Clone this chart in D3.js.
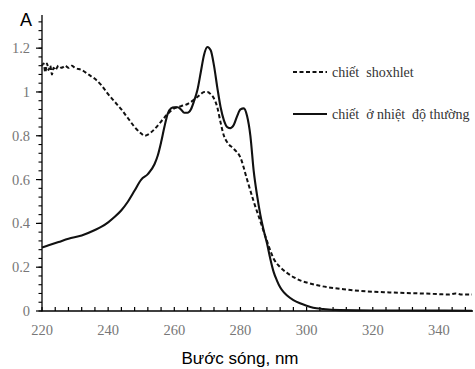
<!DOCTYPE html>
<html>
<head>
<meta charset="utf-8">
<script src="https://cdn.jsdelivr.net/npm/d3@7"></script>
<style>
  body { margin: 0; background: #fff; }
  svg { display: block; }
</style>
</head>
<body>
<div id="chart"></div>
<script>
// wavelength (nm) and absorbance
let soxhletWl = [220, 220.5, 221, 221.5, 222, 222.5, 223, 223.5, 224, 225, 226, 227, 228, 229, 230, 232, 234, 236, 238, 240,
  242, 244, 246, 248, 250, 251, 252, 254, 256, 258, 260, 262, 264, 266, 268, 269, 270, 271, 272, 273, 274, 275, 276, 278,
  280, 282, 284, 286, 288, 290, 292, 294, 296, 298, 300, 304, 308, 312, 316, 320, 325, 330, 335, 340, 343, 345, 347, 350]
let soxhletA = [1.12, 1.13, 1.09, 1.13, 1.10, 1.12, 1.08, 1.11, 1.10, 1.12, 1.11, 1.12, 1.11, 1.12, 1.11, 1.10, 1.08, 1.06, 1.03, 0.99,
  0.955, 0.92, 0.88, 0.84, 0.81, 0.80, 0.805, 0.83, 0.865, 0.90, 0.925, 0.935, 0.945, 0.965, 0.99, 1.0, 1.0, 0.99, 0.97, 0.93, 0.86, 0.80, 0.77, 0.74,
  0.70, 0.60, 0.50, 0.41, 0.32, 0.24, 0.20, 0.175, 0.155, 0.14, 0.13, 0.115, 0.105, 0.098, 0.092, 0.088, 0.085, 0.082, 0.080, 0.077, 0.075, 0.080, 0.075, 0.075]

let roomWl = [220, 222, 225, 228, 232, 236, 238, 240, 242, 244, 246, 248, 250, 252, 254, 255, 256, 257, 258, 259, 260, 261, 262, 263, 264,
  265, 266, 267, 268, 269, 270, 271, 272, 273, 274, 275, 276, 277, 278, 279, 280, 281, 282, 283, 284, 285, 286, 287, 288, 289, 290,
  291, 292, 293, 294, 296, 298, 300, 302, 305, 310, 320, 330, 350]
let roomA = [0.29, 0.30, 0.315, 0.33, 0.345, 0.37, 0.385, 0.405, 0.43, 0.46, 0.50, 0.55, 0.60, 0.625, 0.67, 0.71, 0.77, 0.84, 0.90, 0.925, 0.93, 0.93, 0.92, 0.905, 0.905,
  0.92, 0.96, 1.01, 1.09, 1.17, 1.205, 1.19, 1.12, 1.02, 0.93, 0.87, 0.84, 0.835, 0.85, 0.89, 0.92, 0.925, 0.89, 0.80, 0.64, 0.53, 0.44, 0.37, 0.31, 0.24, 0.18,
  0.14, 0.108, 0.087, 0.072, 0.05, 0.035, 0.024, 0.015, 0.009, 0.004, 0.002, 0.002, 0.001]

let xTicks = [220, 240, 260, 280, 300, 320, 340]
let yTicks = [0, 0.2, 0.4, 0.6, 0.8, 1, 1.2]
let seriesNames = ['chiết  shoxhlet', 'chiết  ở nhiệt  độ thường']

let width = 475, height = 369

let svg = d3.select('#chart')
  .append('svg')
  .attr('width', width)
  .attr('height', height)

let x = d3.scaleLinear().domain([220, 350]).range([42, 472])
let y = d3.scaleLinear().domain([0, 1.35]).range([311, 15.3])

let serif = '"Liberation Serif", "Times New Roman", serif'
let sans = '"Liberation Sans", Arial, sans-serif'

// x axis: minor ticks every 4 nm, pointing up
let xMinor = d3.range(220, 351, 4)
let xAxis = svg.append('g').attr('transform', 'translate(0,311)')
xAxis.append('line')
  .attr('x1', 42).attr('x2', 473)
  .attr('stroke', '#000').attr('stroke-width', 1.3)
xAxis.selectAll('.xt').data(xMinor).enter().append('line')
  .attr('x1', d => x(d)).attr('x2', d => x(d))
  .attr('y1', 0).attr('y2', -4)
  .attr('stroke', '#000').attr('stroke-width', 1.2)
xAxis.selectAll('.xl').data(xTicks).enter().append('text')
  .attr('x', d => x(d)).attr('y', 24)
  .attr('text-anchor', 'middle')
  .attr('font-family', serif).attr('font-size', 14.5)
  .attr('fill', '#777')
  .text(d => d)

// y axis: minor ticks every 0.04
let yMinor = d3.range(0, 1.36, 0.04)
let yAxis = svg.append('g').attr('transform', 'translate(42,0)')
yAxis.append('line')
  .attr('y1', 15).attr('y2', 311.6)
  .attr('stroke', '#000').attr('stroke-width', 1.3)
yAxis.selectAll('.ym').data(yMinor).enter().append('line')
  .attr('x1', -3.5).attr('x2', 0)
  .attr('y1', d => y(d)).attr('y2', d => y(d))
  .attr('stroke', '#000').attr('stroke-width', 1.1)
yAxis.selectAll('.yt').data(yTicks).enter().append('line')
  .attr('x1', -6).attr('x2', 0)
  .attr('y1', d => y(d)).attr('y2', d => y(d))
  .attr('stroke', '#000').attr('stroke-width', 1.2)
yAxis.selectAll('.yl').data(yTicks).enter().append('text')
  .attr('x', -12).attr('y', d => y(d))
  .attr('dy', '0.35em')
  .attr('text-anchor', 'end')
  .attr('font-family', serif).attr('font-size', 14.5)
  .attr('fill', '#777')
  .text(d => d)

svg.append('text')
  .attr('x', 26).attr('y', 26)
  .attr('text-anchor', 'middle')
  .attr('font-family', sans).attr('font-size', 18)
  .text('A')

svg.append('text')
  .attr('x', 240).attr('y', 364)
  .attr('text-anchor', 'middle')
  .attr('font-family', sans).attr('font-size', 17)
  .text('Bước sóng, nm')

let line = d3.line()
  .x(d => x(d[0]))
  .y(d => y(d[1]))
  .curve(d3.curveMonotoneX)

let soxhlet = d3.zip(soxhletWl, soxhletA)
let room = d3.zip(roomWl, roomA)

svg.append('path')
  .datum(soxhlet)
  .attr('d', line)
  .attr('fill', 'none')
  .attr('stroke', '#111')
  .attr('stroke-width', 2)
  .attr('stroke-dasharray', '4,2.5')

svg.append('path')
  .datum(room)
  .attr('d', line)
  .attr('fill', 'none')
  .attr('stroke', '#111')
  .attr('stroke-width', 2.1)

// legend
let legend = svg.append('g')
let legendY = [72, 114]
legend.selectAll('line').data(seriesNames).enter().append('line')
  .attr('x1', 293).attr('x2', 327)
  .attr('y1', (d, i) => legendY[i]).attr('y2', (d, i) => legendY[i])
  .attr('stroke', '#111')
  .attr('stroke-width', 2)
  .attr('stroke-dasharray', (d, i) => i == 0 ? '4,2.5' : null)
legend.selectAll('text').data(seriesNames).enter().append('text')
  .attr('x', 332).attr('y', (d, i) => legendY[i] + 4.5)
  .attr('font-family', serif).attr('font-size', 14)
  .attr('fill', '#333')
  .style('white-space', 'pre')
  .text(d => d)
</script>
</body>
</html>
